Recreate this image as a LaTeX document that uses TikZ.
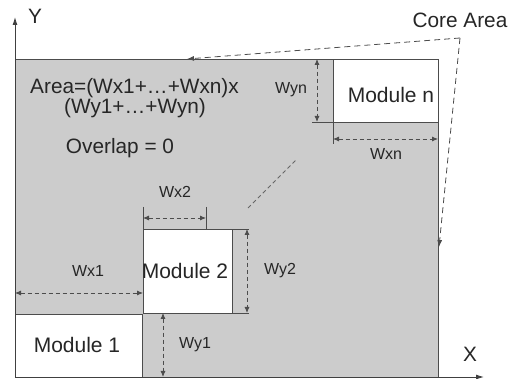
\documentclass[tikz,border=0pt]{standalone}
\usepackage{fontspec}
\setmainfont{Liberation Sans}
\usetikzlibrary{arrows.meta}
\tikzset{
  box/.style={draw=black!70, line width=0.8pt, inner sep=0pt, outer sep=0pt},
  core/.style={box, fill=black!20},
  modbox/.style={box, fill=white},
  big/.style={font=\fontsize{20.8}{24}\selectfont, text=black!85, inner sep=0pt},
  modtext/.style={font=\fontsize{21}{25}\selectfont, text=black!85, inner sep=0pt},
  lbl/.style={font=\fontsize{16}{18}\selectfont, text=black!85, inner sep=0pt},
  dim/.style={draw=black!70, line width=0.8pt, dash pattern=on 4pt off 3pt, {Latex[length=6pt,width=5pt]}-{Latex[length=6pt,width=5pt]}},
  callout/.style={draw=black!70, line width=0.8pt, dash pattern=on 6pt off 4pt, -{Latex[length=7pt,width=5pt]}},
  ext/.style={draw=black!70, line width=0.8pt},
  axis/.style={draw=black!75, line width=0.9pt, -{Latex[length=8pt,width=5pt]}}
}
\begin{document}
\begin{tikzpicture}[x=1pt,y=-1pt]
\useasboundingbox (0,0) rectangle (512,379);
% core area
\node[core, minimum width=423pt, minimum height=318pt] (core) at (226.5,218) {};
% modules
\node[modbox, minimum width=127pt, minimum height=63pt] (m1) at (78.5,345.5) {};
\node[modbox, minimum width=89pt, minimum height=84pt] (m2) at (187.5,271) {};
\node[modbox, minimum width=105pt, minimum height=63pt] (mn) at (385.5,90.5) {};
\node[modtext] (t1) at (77,345) {Module 1};
\node[modtext] (t2) at (185,271) {Module 2};
\node[modtext] (tn) at (391,95) {Module n};
% axes
\coordinate (o) at (15,377);
\coordinate (ytip) at (15,17);
\coordinate (xtip) at (484,377);
\draw[axis] (o) -- (ytip);
\draw[axis] (o) -- (xtip);
\node[big] (ylab) at (35,16) {Y};
\node[big] (xlab) at (470,354) {X};
% text
\node[big, anchor=west] (area1) at (30,88) {Area=(Wx1+\ldots+Wxn)x};
\node[big] (area2) at (135,108) {(Wy1+\ldots+Wyn)};
\node[big] (ovl) at (120,148) {Overlap = 0};
% Wx1
\coordinate (wx1a) at (15,293);
\coordinate (wx1b) at (143,293);
\draw[dim] (wx1a) -- (wx1b);
\node[lbl] (lwx1) at (88,271) {Wx1};
% Wy1
\coordinate (wy1a) at (163,313);
\coordinate (wy1b) at (163,377);
\draw[dim] (wy1a) -- (wy1b);
\node[lbl] (lwy1) at (195,345) {Wy1};
% Wx2
\coordinate (e1a) at (143,207);
\coordinate (e1b) at (143,229);
\coordinate (e2a) at (206,207);
\coordinate (e2b) at (206,229);
\draw[ext] (e1a) -- (e1b);
\draw[ext] (e2a) -- (e2b);
\coordinate (wx2a) at (143,218);
\coordinate (wx2b) at (206,218);
\draw[dim] (wx2a) -- (wx2b);
\node[lbl] (lwx2) at (175,192) {Wx2};
% Wy2
\coordinate (e3a) at (232,229);
\coordinate (e3b) at (249,229);
\coordinate (e4a) at (232,313);
\coordinate (e4b) at (249,313);
\draw[ext] (e3a) -- (e3b);
\draw[ext] (e4a) -- (e4b);
\coordinate (wy2a) at (247,229);
\coordinate (wy2b) at (247,313);
\draw[dim] (wy2a) -- (wy2b);
\node[lbl] (lwy2) at (280,271) {Wy2};
% Wyn
\coordinate (e5a) at (312,122);
\coordinate (e5b) at (333,122);
\draw[ext] (e5a) -- (e5b);
\coordinate (wyna) at (317,59);
\coordinate (wynb) at (317,122);
\draw[dim] (wyna) -- (wynb);
\node[lbl] (lwyn) at (291,90) {Wyn};
% Wxn
\coordinate (e6a) at (333,122);
\coordinate (e6b) at (333,144);
\draw[ext] (e6a) -- (e6b);
\coordinate (wxna) at (333,139);
\coordinate (wxnb) at (438,139);
\draw[dim] (wxna) -- (wxnb);
\node[lbl] (lwxn) at (386,154) {Wxn};
% diagonal dots
\coordinate (d1) at (248,208);
\coordinate (d2) at (296,160);
\draw[draw=black!60, line width=1pt, dash pattern=on 4pt off 3pt] (d1) -- (d2);
% core area callout
\node[big] (clab) at (460,20) {Core Area};
\coordinate (cc) at (460,38);
\coordinate (ct) at (187,59);
\coordinate (cr) at (439,247);
\draw[callout] (cc) -- (ct);
\draw[callout] (cc) -- (cr);
\end{tikzpicture}
\end{document}
